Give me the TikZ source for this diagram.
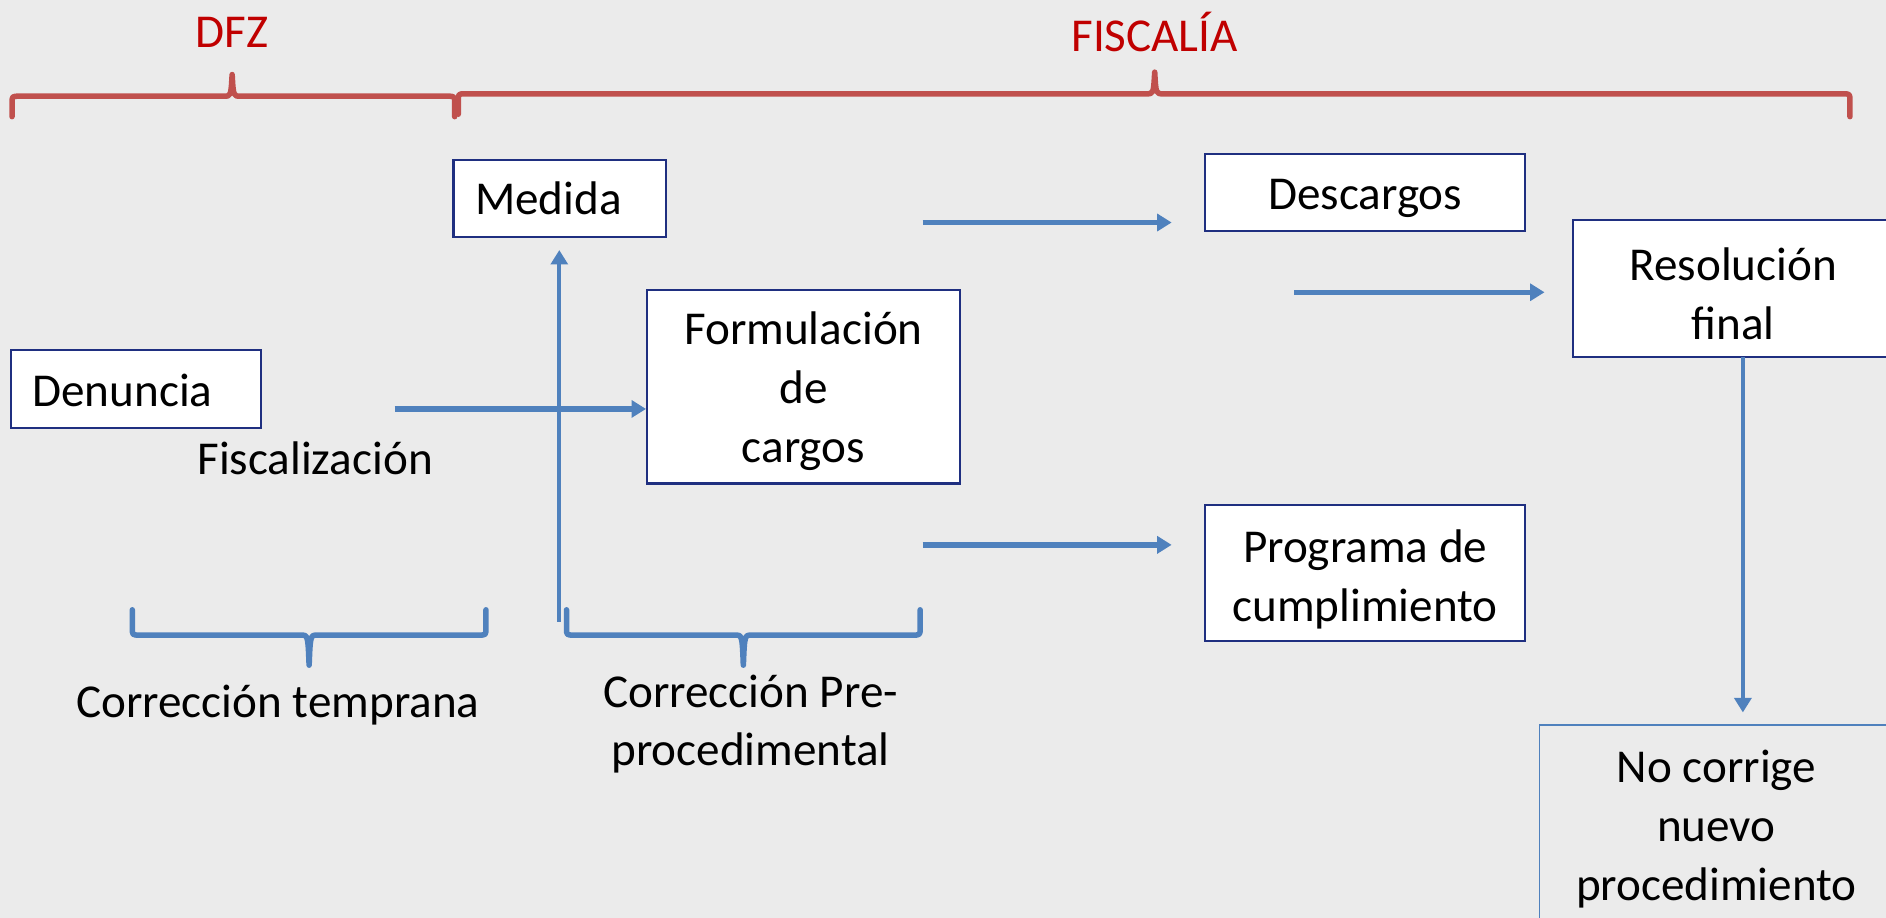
\documentclass[tikz,border=0pt]{standalone}
\usepackage{fontspec}
\setmainfont{Carlito}
\usetikzlibrary{arrows.meta}
\definecolor{bg}{HTML}{EBEBEB}
\definecolor{navy}{HTML}{1F2F80}
\definecolor{accblue}{HTML}{4F81BD}
\definecolor{accred}{HTML}{C0504D}
\definecolor{titlered}{HTML}{C00000}
\newcommand{\upstrut}[1]{\rule{0pt}{#1}}
\begin{document}
\begin{tikzpicture}[x=0.5pt,y=-0.5pt,
  every node/.style={font=\fontsize{19.6pt}{24.5pt}\selectfont, inner sep=0pt},
  box/.style={draw=navy, line width=0.9pt, fill=white, align=center},
  flow/.style={draw=accblue, line width=2.3pt, -{Triangle[length=6pt,width=7pt]}},
  thinflow/.style={flow, line width=1.6pt},
  rbrace/.style={draw=accred, line width=2.3pt, line cap=round, line join=round},
  bbrace/.style={draw=accblue, line width=2.3pt, line cap=round, line join=round},
  title/.style={text=titlered}
]
\useasboundingbox (0,0) rectangle (1568,763);
\fill[bg] (0,0) rectangle (1568,763);
\clip (0,0) rectangle (1568,763);

% titles
\node[title] (dfz) at (193,27) {DFZ};
\node[title] (fis) at (960,27) {FISCALÍA};

% red braces
\draw[rbrace] (10,97) -- (10,86) .. controls (10,80) .. (16,80) -- (186,80)
  .. controls (192,80) .. (193,62) .. controls (194,80) .. (200,80) -- (372,80)
  .. controls (378,80) .. (378,86) -- (378,97);
\draw[rbrace] (381,95) -- (381,84) .. controls (381,78) .. (387,78) -- (953,78)
  .. controls (959,78) .. (960,60) .. controls (961,78) .. (967,78) -- (1532,78)
  .. controls (1538,78) .. (1538,84) -- (1538,97);

% boxes
\node[box, minimum height=32.5pt, text width=86pt, align=left, inner xsep=9pt] (den) at (113,323.5) {\upstrut{14.6pt}Denuncia};
\node[box, minimum height=32pt, text width=70.5pt, align=left, inner xsep=9pt] (med) at (465.5,165) {Medida};
\node[box, minimum width=130pt, minimum height=80.5pt] (form) at (668,321.5) {\upstrut{17pt}Formulación\\de\\cargos};
\node[box, minimum width=133pt, minimum height=32pt] (desc) at (1135,160) {\upstrut{17.6pt}Descargos};
\node[box, minimum width=133pt, minimum height=57pt] (res) at (1441,240) {\upstrut{18pt}Resolución\\final};
\node[box, minimum width=133pt, minimum height=56.5pt] (prog) at (1135,476.5) {\upstrut{19pt}Programa de\\cumplimiento};
\node[box, draw=accblue, fill=none, line width=0.7pt, minimum width=147pt, minimum height=84pt] (noc) at (1427,687) {\upstrut{15.5pt}No corrige\\nuevo\\procedimiento};

% free labels
\node (fiscal) at (262,381) {Fiscalización};
\node (ctemp) at (231,586) {Corrección temprana};
\node[align=center] (cpre) at (624,602) {Corrección Pre-\\procedimental};

% arrows
\coordinate (f0) at (328,340);
\draw[flow] (f0) -- (f0 -| form.west);
\coordinate (v0) at (465,517);
\draw[thinflow, shorten >=5pt] (v0) -- (v0 |- med.south);
\coordinate (d0) at (767,185);
\draw[flow, shorten >=13.5pt] (d0) -- (d0 -| desc.west);
\coordinate (r0) at (1076,243);
\draw[flow, shorten >=11.5pt] (r0) -- (r0 -| res.west);
\coordinate (p0) at (767,453);
\draw[flow, shorten >=13.5pt] (p0) -- (p0 -| prog.west);
\coordinate (n0) at (1449,297);
\draw[thinflow, shorten >=5pt] (n0) -- (n0 |- noc.north);

% blue braces
\draw[bbrace] (110,507) -- (110,522) .. controls (110,528) .. (116,528) -- (250,528)
  .. controls (256,528) .. (257,553) .. controls (258,528) .. (264,528) -- (398,528)
  .. controls (404,528) .. (404,522) -- (404,507);
\draw[bbrace] (471,507) -- (471,522) .. controls (471,528) .. (477,528) -- (611,528)
  .. controls (617,528) .. (618,553) .. controls (619,528) .. (625,528) -- (759,528)
  .. controls (765,528) .. (765,522) -- (765,507);
\end{tikzpicture}
\end{document}
